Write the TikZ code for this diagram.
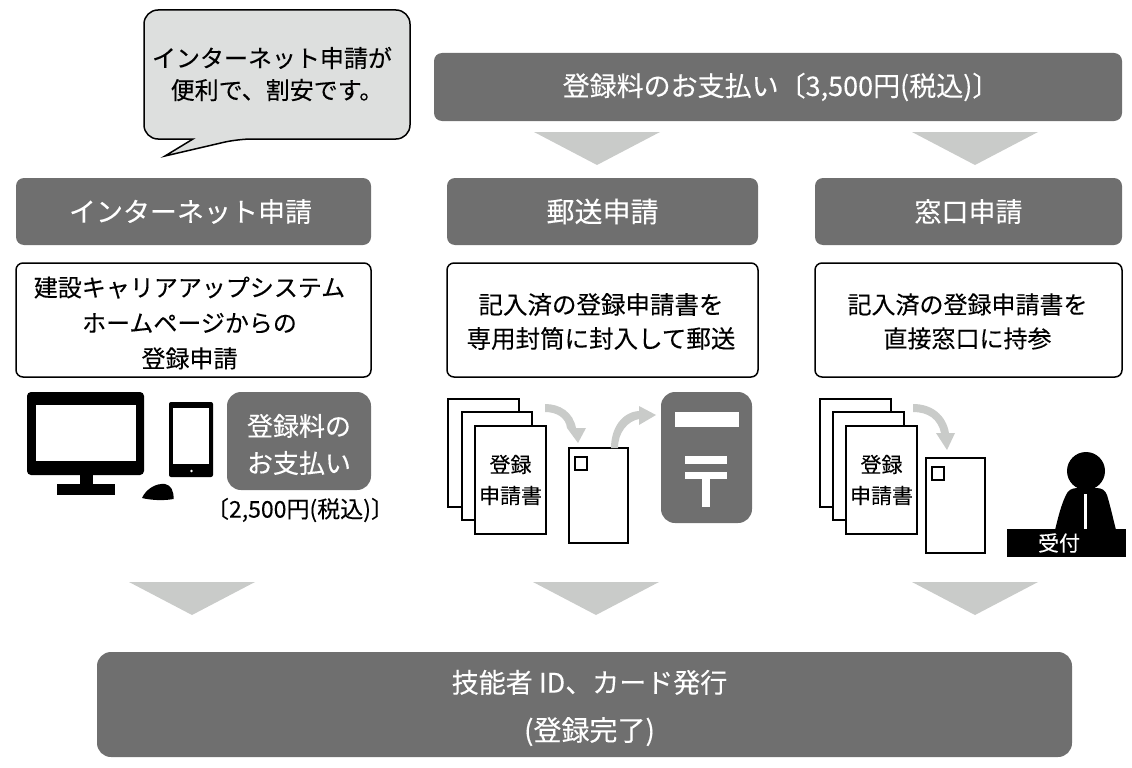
\documentclass[tikz,border=0pt]{standalone}
\usepackage{fontspec}
\setmainfont{Noto Sans CJK JP}[FakeBold=0.15]
\definecolor{dk}{HTML}{6F6F6F}
\definecolor{lg}{HTML}{C9CBC9}
\definecolor{bub}{HTML}{DDDFDE}
\newcommand{\fs}[2]{\fontsize{#1}{#2}\selectfont}
\tikzset{
  bar/.style={fill=dk,draw=none,rounded corners=8pt,text=white,inner sep=0pt,align=center,font=\fs{27}{36}},
  whitebox/.style={draw=black,line width=1.5pt,fill=white,rounded corners=7pt,inner sep=0pt},
  sheet/.style={draw=black,line width=1.5pt,fill=white,inner sep=0pt,align=center,font=\fs{21}{31}},
  stampbox/.style={draw=black,line width=1.2pt,fill=white,inner sep=0pt},
  tri/.style={fill=lg,draw=none},
  flow/.style={fill=lg,draw=none},
  lab/.style={inner sep=0pt,align=center},
  desc/.style={lab,font=\fs{24.5}{34}},
}
\begin{document}
\begin{tikzpicture}[x=1pt,y=-1pt]
\useasboundingbox (0,0) rectangle (1132,768);
% speech bubble
\draw[line width=1.5pt,fill=bub,rounded corners=14pt] (144,10) -- (410,10) -- (410,139) -- (238,139) [sharp corners] -- (165,156) -- (193,139) [rounded corners=14pt] -- (144,139) -- cycle;
\node[lab,font=\fs{24}{32}] (bubbletext) at (272,74) {インターネット申請が\\\hspace*{10pt}便利で、割安です。};
% top bar
\node[bar,minimum width=688pt,minimum height=68pt] (fee) at (778,87) {\hspace*{6pt}登録料のお支払い〔3,500円(税込)〕};
\fill[tri] (534,132) -- (660,132) -- (597,165) -- cycle;
\fill[tri] (912,132) -- (1038,132) -- (975,165) -- cycle;
% headers
\node[bar,minimum width=355pt,minimum height=67pt] (h1) at (193.5,211.5) {\hspace*{-6pt}インターネット申請};
\node[bar,minimum width=311pt,minimum height=67pt] (h2) at (602.5,211.5) {\fs{28}{36}郵送申請};
\node[bar,minimum width=307pt,minimum height=67pt] (h3) at (968.5,211.5) {窓口申請};
% description boxes
\node[whitebox,minimum width=355pt,minimum height=114pt] (d1) at (193.5,320) {};
\node[lab,font=\fs{24}{35.5}] (d1t) at (189.5,323) {建設キャリアアップシステム\\ホームページからの\\登録申請};
\node[whitebox,minimum width=311pt,minimum height=114pt] (d2) at (602.5,320) {};
\node[desc] (d2t) at (601,321.5) {記入済の登録申請書を\\専用封筒に封入して郵送};
\node[whitebox,minimum width=307pt,minimum height=114pt] (d3) at (968.5,320) {};
\node[lab,font=\fs{24}{34}] (d3t) at (967.5,321.5) {記入済の登録申請書を\\直接窓口に持参};
% computer
\fill[rounded corners=4pt] (27,392) rectangle (144,475);
\fill[white] (36,405) rectangle (136,461);
\fill (80,474) rectangle (93,485);
\fill (57,484) rectangle (115,495);
\fill[rounded corners=2pt] (169,402) rectangle (213,477);
\fill[white] (173,408) rectangle (209,464);
\fill[white] (191.5,471) circle (1.3);
\fill (142,498) .. controls (146,489) and (156,483) .. (165,484) .. controls (171,485) and (174,491) .. (173.5,499) .. controls (163,501) and (150,500) .. (142,498) -- cycle;
\node[bar,rounded corners=14pt,minimum width=144pt,minimum height=98pt] (pay) at (299,441) {};
\node[lab,text=white,font=\fs{26}{37}] (paytext) at (299,444.5) {登録料の\\お支払い};
\node[lab,font=\fs{23}{26}] (paynote) at (300,510) {〔2,500円(税込)〕};
% postal documents
\node[sheet,minimum width=71pt,minimum height=108pt] (m1) at (483.5,453) {};
\node[sheet,minimum width=70pt,minimum height=108pt] (m2) at (497,466) {};
\node[sheet,minimum width=71pt,minimum height=108pt] (m3) at (510.5,480) {登録\\申請書};
\fill[flow] (545,404) .. controls (560,404) and (573,412) .. (576,428) -- (586,428) -- (578,443) -- (567,428) .. controls (566,418) and (557,412) .. (545,412) -- cycle;
\node[sheet,minimum width=59pt,minimum height=95pt] (m4) at (598.5,495.5) {};
\node[stampbox,minimum width=12pt,minimum height=13pt] (m5) at (581,463.5) {};
\fill[flow] (611,448) .. controls (611,428) and (622,412) .. (639,411) -- (639,406) -- (656,415) -- (639,425) -- (639,419) .. controls (628,421) and (618,432) .. (618,448) -- cycle;
% post box
\node[fill=dk,rounded corners=14pt,minimum width=91pt,minimum height=131pt,inner sep=0pt] (post) at (706.5,457.5) {};
\fill[white] (675,412) rectangle (739,427);
\fill[white] (685,456) rectangle (727,464);
\fill[white] (685,472) rectangle (727,479);
\fill[white] (702,479) rectangle (710,507);
% counter documents
\node[sheet,minimum width=71pt,minimum height=108pt] (r1) at (855.5,453) {};
\node[sheet,minimum width=71pt,minimum height=108pt] (r2) at (868.5,466) {};
\node[sheet,minimum width=71pt,minimum height=108pt] (r3) at (881.5,480) {登録\\申請書};
\fill[flow] (913,404) .. controls (932,404) and (946,415) .. (949,433) -- (955,433) -- (947,450) -- (936,433) -- (941,433) .. controls (938,419) and (928,412) .. (913,412) -- cycle;
\node[sheet,minimum width=59pt,minimum height=95pt] (r4) at (955.5,505.5) {};
\node[stampbox,minimum width=12pt,minimum height=13pt] (r5) at (938,473.5) {};
% person
\fill (1086,471) circle (19);
\fill (1055,530) .. controls (1058,518) and (1061,505) .. (1066,495) .. controls (1068,490) and (1072,488) .. (1078,488) -- (1096,488) .. controls (1102,488) and (1105,490) .. (1107,495) .. controls (1110,505) and (1113,518) .. (1116,530) -- cycle;
\fill[white] (1084,494) rectangle (1087,529);
\node[fill=black,minimum width=119pt,minimum height=28pt,inner sep=0pt] (desk) at (1066.5,543) {};
\node[lab,text=white,font=\fs{21}{24}] (desktext) at (1059,543) {受付};
% lower arrows
\fill[tri] (129,582) -- (255,582) -- (192,615) -- cycle;
\fill[tri] (533,582) -- (659,582) -- (596,615) -- cycle;
\fill[tri] (912,582) -- (1038,582) -- (975,615) -- cycle;
% bottom bar
\node[bar,rounded corners=14pt,minimum width=975pt,minimum height=105pt] (done) at (584.5,704.5) {};
\node[lab,text=white,font=\fs{27}{48}] (donetext) at (589.5,708) {技能者 ID、カード発行\\\fs{28}{48}(登録完了)};
\end{tikzpicture}
\end{document}
